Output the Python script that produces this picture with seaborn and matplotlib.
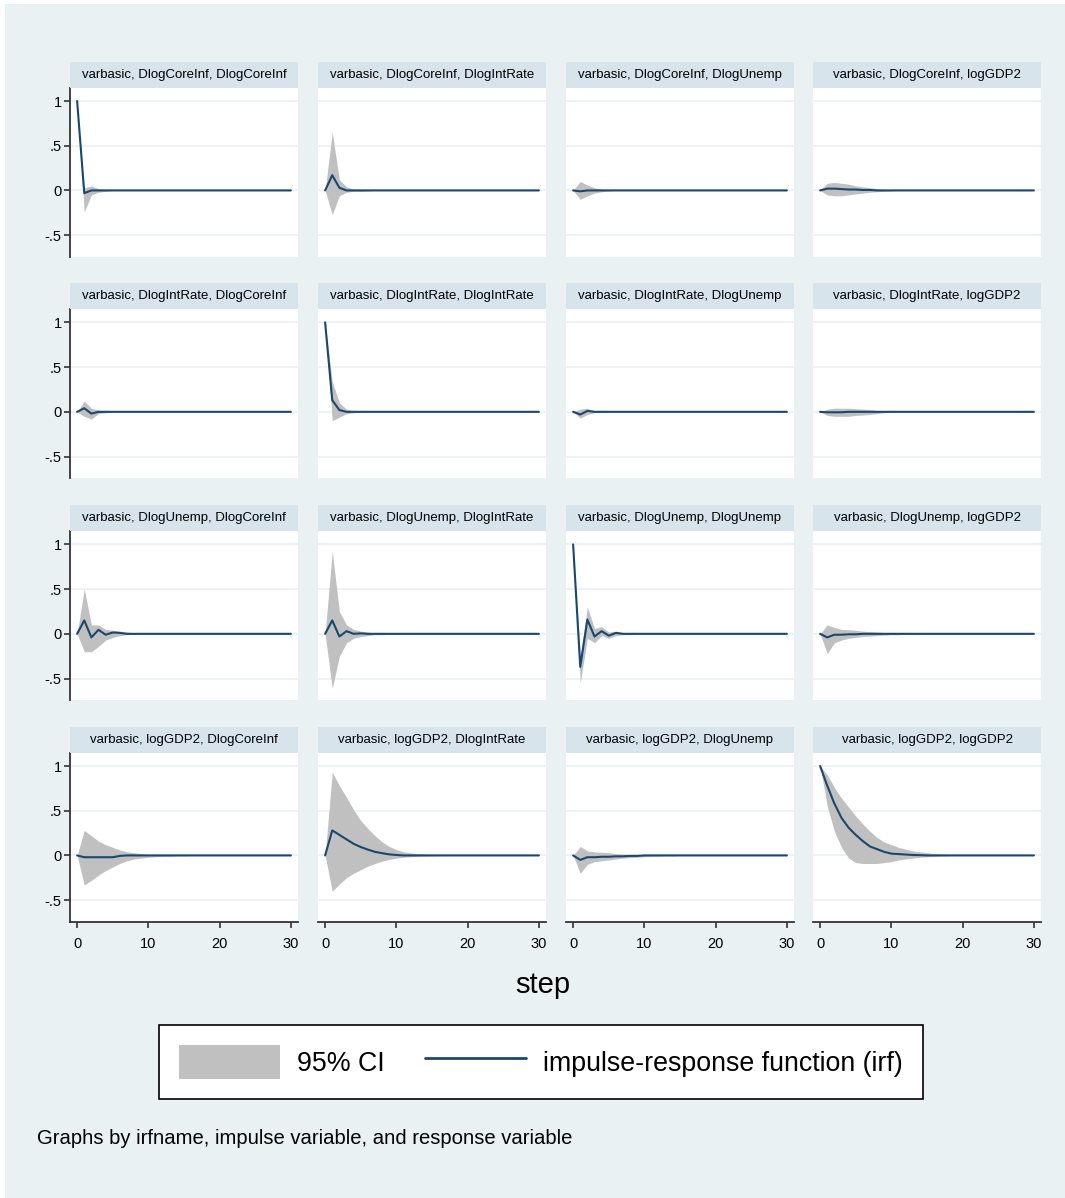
import pandas as pd
import matplotlib
matplotlib.use("Agg")
import matplotlib.pyplot as plt
from matplotlib.patches import Rectangle, Patch
from matplotlib.lines import Line2D
import seaborn as sns


# Data (steps 0..30, values past the listed steps are 0)
steps = list(range(31))
variables = ["DlogCoreInf", "DlogIntRate", "DlogUnemp", "logGDP2"]
irf_name = "varbasic"

# impulse DlogCoreInf
core_core_irf = [1.0, -0.03, 0.0]
core_core_lo = [1.0, -0.24, -0.05, -0.02, -0.01]
core_core_hi = [1.0, 0.03, 0.05, 0.02, 0.01]
core_int_irf = [0.0, 0.17, 0.03, 0.0]
core_int_lo = [0.0, -0.27, -0.06, -0.02, -0.01, -0.01, -0.005]
core_int_hi = [0.0, 0.65, 0.12, 0.04, 0.015, 0.01, 0.005]
core_unemp_irf = [0.0, -0.01, 0.0]
core_unemp_lo = [0.0, -0.1, -0.06, -0.03, -0.015, -0.005]
core_unemp_hi = [0.0, 0.1, 0.06, 0.03, 0.015, 0.005]
core_gdp_irf = [0.0, 0.02, 0.02, 0.015, 0.01, 0.01, 0.005, 0.005, 0.0]
core_gdp_lo = [0.0, -0.05, -0.06, -0.06, -0.05, -0.04, -0.03, -0.02, -0.015, -0.01, -0.005]
core_gdp_hi = [0.0, 0.08, 0.09, 0.08, 0.07, 0.05, 0.04, 0.03, 0.02, 0.01, 0.005]

# impulse DlogIntRate
int_core_irf = [0.0, 0.04, -0.02, 0.0]
int_core_lo = [0.0, -0.05, -0.08, -0.02, -0.01]
int_core_hi = [0.0, 0.12, 0.04, 0.02, 0.01]
int_int_irf = [1.0, 0.13, 0.02, 0.0]
int_int_lo = [1.0, -0.1, -0.06, -0.02, -0.01]
int_int_hi = [1.0, 0.34, 0.1, 0.03, 0.01]
int_unemp_irf = [0.0, -0.03, 0.01, 0.0]
int_unemp_lo = [0.0, -0.07, -0.03, -0.01]
int_unemp_hi = [0.0, 0.03, 0.04, 0.01]
int_gdp_irf = [0.0, -0.005, -0.005, -0.005, 0.0]
int_gdp_lo = [0.0, -0.04, -0.05, -0.05, -0.05, -0.04, -0.035, -0.03, -0.02, -0.01]
int_gdp_hi = [0.0, 0.03, 0.04, 0.04, 0.04, 0.035, 0.03, 0.025, 0.015, 0.01]

# impulse DlogUnemp
unemp_core_irf = [0.0, 0.15, -0.04, 0.045, -0.01, 0.015, 0.01, 0.0]
unemp_core_lo = [0.0, -0.2, -0.2, -0.14, -0.07, -0.04, -0.02, -0.01, -0.005]
unemp_core_hi = [0.0, 0.5, 0.1, 0.1, 0.05, 0.04, 0.03, 0.02, 0.01]
unemp_int_irf = [0.0, 0.15, -0.03, 0.03, 0.0, 0.005, 0.0]
unemp_int_lo = [0.0, -0.61, -0.25, -0.1, -0.05, -0.03, -0.02, -0.01, -0.01, -0.005, -0.005]
unemp_int_hi = [0.0, 0.92, 0.25, 0.1, 0.05, 0.03, 0.02, 0.01, 0.01, 0.005, 0.005]
unemp_unemp_irf = [1.0, -0.37, 0.16, -0.03, 0.03, -0.02, 0.01, 0.0]
unemp_unemp_lo = [1.0, -0.55, -0.05, -0.1, -0.02, -0.05, -0.02, -0.01, -0.01]
unemp_unemp_hi = [1.0, -0.25, 0.3, 0.06, 0.08, 0.02, 0.03, 0.015, 0.01]
unemp_gdp_irf = [0.0, -0.04, -0.01, -0.01, -0.005, -0.005, 0.0]
unemp_gdp_lo = [0.0, -0.22, -0.1, -0.07, -0.05, -0.04, -0.03, -0.025, -0.02, -0.015, -0.01, -0.01, -0.005, -0.005]
unemp_gdp_hi = [0.0, 0.1, 0.07, 0.05, 0.045, 0.04, 0.03, 0.025, 0.02, 0.015, 0.01, 0.01, 0.005, 0.005]

# impulse logGDP2
gdp_core_irf = [0.0, -0.02, -0.02, -0.02, -0.02, -0.02, -0.005, 0.0]
gdp_core_lo = [0.0, -0.33, -0.28, -0.22, -0.17, -0.13, -0.09, -0.06, -0.04, -0.03, -0.02, -0.015, -0.01, -0.01, -0.005, -0.005]
gdp_core_hi = [0.0, 0.28, 0.22, 0.16, 0.12, 0.09, 0.06, 0.04, 0.03, 0.02, 0.01, 0.01, 0.005, 0.005]
gdp_int_irf = [0.0, 0.28, 0.23, 0.18, 0.13, 0.094, 0.065, 0.04, 0.025, 0.012, 0.005, 0.0]
gdp_int_lo = [0.0, -0.40, -0.32, -0.25, -0.2, -0.16, -0.12, -0.09, -0.065, -0.045, -0.03, -0.02, -0.015, -0.01, -0.007, -0.005, -0.003, -0.002]
gdp_int_hi = [0.0, 0.93, 0.78, 0.65, 0.51, 0.39, 0.3, 0.22, 0.15, 0.1, 0.065, 0.04, 0.03, 0.02, 0.015, 0.01, 0.007, 0.005, 0.003, 0.002, 0.001]
gdp_unemp_irf = [0.0, -0.05, -0.02, -0.02, -0.015, -0.015, -0.01, -0.01, -0.005, -0.005, 0.0]
gdp_unemp_lo = [0.0, -0.2, -0.1, -0.07, -0.06, -0.05, -0.04, -0.03, -0.025, -0.02, -0.015, -0.01, -0.01, -0.005, -0.005]
gdp_unemp_hi = [0.0, 0.1, 0.05, 0.04, 0.035, 0.03, 0.02, 0.015, 0.01, 0.01, 0.005, 0.005]
gdp_gdp_irf = [1.0, 0.78, 0.58, 0.42, 0.31, 0.23, 0.16, 0.1, 0.07, 0.04, 0.02, 0.015, 0.01, 0.005, 0.003, 0.0]
gdp_gdp_lo = [1.0, 0.55, 0.27, 0.09, -0.03, -0.08, -0.09, -0.09, -0.09, -0.08, -0.07, -0.05, -0.04, -0.03, -0.02, -0.015, -0.01, -0.005, -0.003]
gdp_gdp_hi = [1.0, 0.9, 0.76, 0.64, 0.54, 0.44, 0.35, 0.27, 0.2, 0.15, 0.12, 0.09, 0.07, 0.05, 0.04, 0.03, 0.02, 0.015, 0.01, 0.007, 0.005, 0.003]

panel_rows = [
    [(core_core_irf, core_core_lo, core_core_hi), (core_int_irf, core_int_lo, core_int_hi),
     (core_unemp_irf, core_unemp_lo, core_unemp_hi), (core_gdp_irf, core_gdp_lo, core_gdp_hi)],
    [(int_core_irf, int_core_lo, int_core_hi), (int_int_irf, int_int_lo, int_int_hi),
     (int_unemp_irf, int_unemp_lo, int_unemp_hi), (int_gdp_irf, int_gdp_lo, int_gdp_hi)],
    [(unemp_core_irf, unemp_core_lo, unemp_core_hi), (unemp_int_irf, unemp_int_lo, unemp_int_hi),
     (unemp_unemp_irf, unemp_unemp_lo, unemp_unemp_hi), (unemp_gdp_irf, unemp_gdp_lo, unemp_gdp_hi)],
    [(gdp_core_irf, gdp_core_lo, gdp_core_hi), (gdp_int_irf, gdp_int_lo, gdp_int_hi),
     (gdp_unemp_irf, gdp_unemp_lo, gdp_unemp_hi), (gdp_gdp_irf, gdp_gdp_lo, gdp_gdp_hi)],
]


def pad(v):
    return v + [0.0] * (len(steps) - len(v))


# long table: one row per impulse/response/step
frames = []
for imp, row in zip(variables, panel_rows):
    for resp, (irf, lo, hi) in zip(variables, row):
        frames.append(pd.DataFrame({"impulse": imp, "response": resp, "step": steps,
                                    "irf": pad(irf), "lo": pad(lo), "hi": pad(hi)}))
data = pd.concat(frames, ignore_index=True)

# Colors (Stata s2color look)
BG = "#EAF1F3"
STRIP = "#D7E4EB"
GRID = "#EAF1F3"
NAVY = "#1A476F"
CI_GRAY = "#C0C0C0"
AXIS = "#333333"

sns.set_theme(style="white")
plt.rcParams['font.family'] = ['Liberation Sans', 'DejaVu Sans']
plt.rcParams['text.color'] = 'black'

W, H = 1065, 1198
fig = plt.figure(figsize=(W / 100, H / 100), dpi=100)
fig.patch.set_facecolor("white")
fig.add_artist(Rectangle((5 / W, 0), 1 - 5 / W, 1 - 4 / H, transform=fig.transFigure,
                         facecolor=BG, edgecolor="none", zorder=-10))

col_left = [70, 318, 566, 813]
row_top = [87.6, 309, 531, 752.6]
pw, ph, strip_h = 228, 169, 26

for i, imp in enumerate(variables):
    for j, resp in enumerate(variables):
        sub = data[(data.impulse == imp) & (data.response == resp)]
        l, t = col_left[j], row_top[i]
        ax = fig.add_axes([l / W, 1 - (t + ph) / H, pw / W, ph / H])
        ax.set_facecolor("white")
        ax.fill_between(sub["step"], sub["lo"], sub["hi"], color=CI_GRAY, lw=0, zorder=2)
        sns.lineplot(data=sub, x="step", y="irf", ax=ax, color=NAVY, linewidth=1.5, zorder=3)
        ax.set_xlim(-1, 31)
        ax.set_ylim(-0.74, 1.15)
        ax.set_xticks([0, 10, 20, 30])
        ax.set_yticks([-0.5, 0, 0.5, 1])
        ax.grid(axis="y", color=GRID, lw=1.2)
        ax.grid(axis="x", visible=False)
        ax.set_axisbelow(True)
        ax.set_xlabel("")
        ax.set_ylabel("")
        for s in ax.spines.values():
            s.set_visible(False)
        if j == 0:
            ax.spines["left"].set_visible(True)
            ax.spines["left"].set_color(AXIS)
            ax.spines["left"].set_linewidth(1.3)
            ax.set_yticklabels(["-.5", "0", ".5", "1"])
            ax.tick_params(axis="y", left=True, length=4, width=1.2, color=AXIS,
                           labelsize=10.5, pad=2, labelcolor="black")
        else:
            ax.tick_params(axis="y", left=False, labelleft=False)
        if i == 3:
            ax.spines["bottom"].set_visible(True)
            ax.spines["bottom"].set_color(AXIS)
            ax.spines["bottom"].set_linewidth(1.3)
            ax.tick_params(axis="x", bottom=True, length=4, width=1.2, color=AXIS,
                           labelsize=10.5, pad=7, labelcolor="black")
        else:
            ax.tick_params(axis="x", bottom=False, labelbottom=False)

        # title strip above the panel
        sax = fig.add_axes([l / W, 1 - t / H, pw / W, strip_h / H])
        sax.set_facecolor(STRIP)
        sax.set_xticks([])
        sax.set_yticks([])
        for s in sax.spines.values():
            s.set_visible(False)
        sax.text(0.5, 0.5, f"{irf_name}, {imp}, {resp}", ha="center", va="center",
                 fontsize=9.5, color="black", transform=sax.transAxes)

fig.text(543 / W, 1 - 985 / H, "step", ha="center", va="center", fontsize=21, color="black")

handles = [Patch(facecolor=CI_GRAY, edgecolor="none", label="95% CI"),
           Line2D([], [], color=NAVY, lw=2, label="impulse-response function (irf)")]
leg = fig.legend(handles=handles, loc="center", bbox_to_anchor=(541 / W, 1 - 1062 / H),
                 ncol=2, fontsize=19.3, frameon=True, fancybox=False, edgecolor="black",
                 facecolor="white", framealpha=1, handlelength=3.75, handleheight=1.6,
                 columnspacing=1.5, handletextpad=0.65, borderpad=0.75, borderaxespad=0,
                 labelcolor="black")
leg.get_frame().set_linewidth(1.2)

fig.text(37 / W, 1 - 1138 / H, "Graphs by irfname, impulse variable, and response variable",
         ha="left", va="center", fontsize=14.6, color="black")

fig.savefig("out.png", dpi=100, facecolor=fig.get_facecolor())
